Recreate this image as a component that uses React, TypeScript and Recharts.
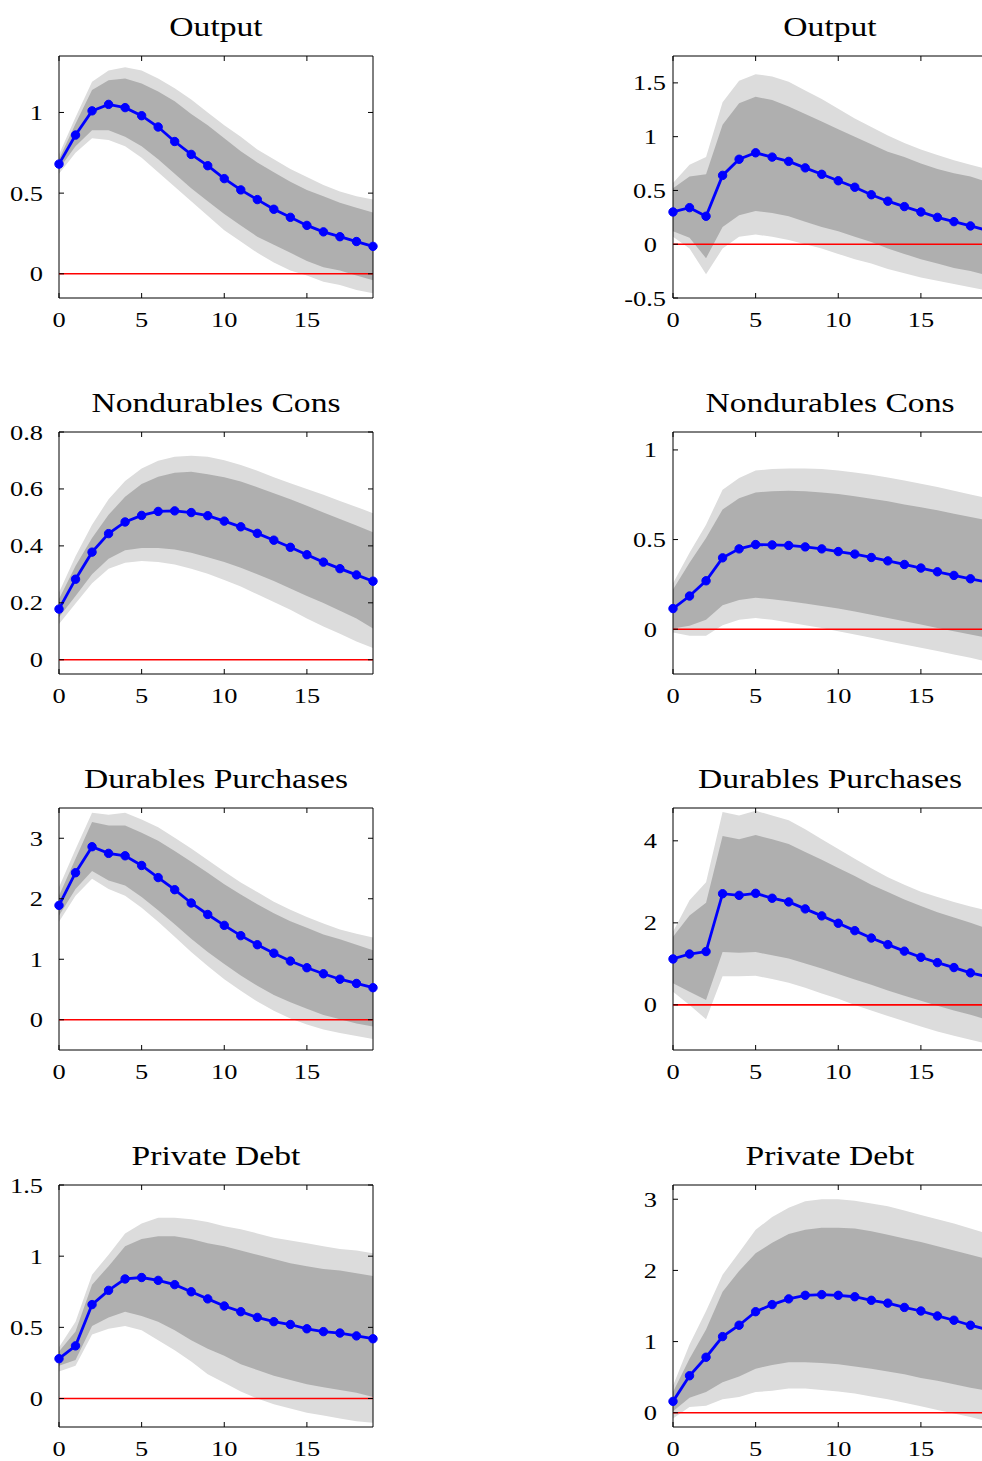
import React from 'react';
import { ComposedChart, Area, Line, XAxis, YAxis, ReferenceLine, ReferenceArea } from 'recharts';

// ---------- data ----------
const HORIZON = [0, 1, 2, 3, 4, 5, 6, 7, 8, 9, 10, 11, 12, 13, 14, 15, 16, 17, 18, 19];
const X_TICKS = [0, 5, 10, 15];

// Output (left)
const OUT_L_MED = [0.68, 0.86, 1.01, 1.05, 1.03, 0.98, 0.91, 0.82, 0.74, 0.67, 0.59, 0.52, 0.46, 0.40, 0.35, 0.30, 0.26, 0.23, 0.20, 0.17];
const OUT_L_D_HI = [0.71, 0.93, 1.14, 1.20, 1.21, 1.18, 1.13, 1.07, 0.99, 0.92, 0.84, 0.76, 0.69, 0.63, 0.57, 0.52, 0.48, 0.44, 0.41, 0.38];
const OUT_L_D_LO = [0.65, 0.79, 0.89, 0.89, 0.85, 0.79, 0.71, 0.62, 0.53, 0.45, 0.37, 0.30, 0.23, 0.18, 0.13, 0.08, 0.04, 0.02, -0.01, -0.04];
const OUT_L_L_HI = [0.74, 0.97, 1.19, 1.26, 1.28, 1.26, 1.21, 1.15, 1.08, 1.00, 0.92, 0.85, 0.77, 0.71, 0.65, 0.60, 0.55, 0.51, 0.48, 0.46];
const OUT_L_L_LO = [0.62, 0.75, 0.84, 0.83, 0.79, 0.72, 0.63, 0.54, 0.45, 0.36, 0.27, 0.20, 0.13, 0.07, 0.02, -0.01, -0.05, -0.07, -0.10, -0.12];
const OUT_L_YTICKS = [0, 0.5, 1];

// Output (right)
const OUT_R_MED = [0.30, 0.34, 0.26, 0.64, 0.79, 0.85, 0.81, 0.77, 0.71, 0.65, 0.59, 0.53, 0.46, 0.40, 0.35, 0.30, 0.25, 0.21, 0.17, 0.13];
const OUT_R_D_HI = [0.52, 0.63, 0.65, 1.11, 1.31, 1.37, 1.34, 1.28, 1.21, 1.14, 1.07, 1.00, 0.93, 0.86, 0.81, 0.75, 0.70, 0.66, 0.63, 0.58];
const OUT_R_D_LO = [0.12, 0.06, -0.13, 0.16, 0.27, 0.31, 0.29, 0.26, 0.21, 0.16, 0.12, 0.07, 0.02, -0.04, -0.09, -0.14, -0.18, -0.22, -0.25, -0.29];
const OUT_R_L_HI = [0.57, 0.74, 0.81, 1.32, 1.52, 1.58, 1.56, 1.51, 1.43, 1.35, 1.26, 1.17, 1.09, 1.01, 0.94, 0.88, 0.83, 0.78, 0.74, 0.70];
const OUT_R_L_LO = [0.07, -0.04, -0.28, -0.04, 0.07, 0.09, 0.07, 0.04, 0.00, -0.04, -0.09, -0.14, -0.18, -0.23, -0.27, -0.31, -0.34, -0.37, -0.40, -0.43];
const OUT_R_YTICKS = [-0.5, 0, 0.5, 1, 1.5];

// Nondurables Cons (left)
const NDC_L_MED = [0.178, 0.283, 0.378, 0.443, 0.484, 0.507, 0.521, 0.523, 0.517, 0.506, 0.487, 0.467, 0.444, 0.420, 0.395, 0.369, 0.343, 0.320, 0.298, 0.276];
const NDC_L_D_HI = [0.213, 0.329, 0.428, 0.509, 0.573, 0.617, 0.643, 0.657, 0.660, 0.652, 0.641, 0.626, 0.606, 0.585, 0.564, 0.541, 0.517, 0.494, 0.472, 0.448];
const NDC_L_D_LO = [0.149, 0.224, 0.300, 0.355, 0.385, 0.393, 0.393, 0.387, 0.376, 0.360, 0.343, 0.323, 0.300, 0.277, 0.250, 0.224, 0.199, 0.172, 0.145, 0.110];
const NDC_L_L_HI = [0.236, 0.364, 0.474, 0.564, 0.628, 0.672, 0.699, 0.713, 0.717, 0.713, 0.701, 0.684, 0.664, 0.641, 0.620, 0.600, 0.580, 0.558, 0.537, 0.515];
const NDC_L_L_LO = [0.126, 0.198, 0.269, 0.320, 0.341, 0.347, 0.343, 0.335, 0.320, 0.302, 0.280, 0.257, 0.230, 0.203, 0.176, 0.145, 0.117, 0.091, 0.064, 0.041];
const NDC_L_YTICKS = [0, 0.2, 0.4, 0.6, 0.8];

// Nondurables Cons (right)
const NDC_R_MED = [0.115, 0.185, 0.270, 0.398, 0.448, 0.472, 0.470, 0.467, 0.459, 0.448, 0.433, 0.419, 0.400, 0.381, 0.361, 0.341, 0.320, 0.300, 0.281, 0.263];
const NDC_R_D_HI = [0.222, 0.370, 0.509, 0.667, 0.731, 0.763, 0.769, 0.772, 0.769, 0.763, 0.754, 0.741, 0.728, 0.713, 0.696, 0.680, 0.663, 0.644, 0.626, 0.607];
const NDC_R_D_LO = [0.004, 0.019, 0.052, 0.133, 0.163, 0.176, 0.167, 0.156, 0.143, 0.130, 0.115, 0.098, 0.081, 0.063, 0.044, 0.026, 0.007, -0.011, -0.030, -0.048];
const NDC_R_L_HI = [0.256, 0.426, 0.583, 0.778, 0.843, 0.885, 0.893, 0.896, 0.896, 0.893, 0.885, 0.874, 0.861, 0.846, 0.830, 0.811, 0.793, 0.772, 0.752, 0.731];
const NDC_R_L_LO = [-0.019, -0.037, -0.037, 0.022, 0.052, 0.063, 0.052, 0.037, 0.022, 0.007, -0.011, -0.030, -0.048, -0.067, -0.085, -0.104, -0.122, -0.141, -0.159, -0.181];
const NDC_R_YTICKS = [0, 0.5, 1];

// Durables Purchases (left)
const DUR_L_MED = [1.89, 2.43, 2.86, 2.75, 2.71, 2.55, 2.35, 2.15, 1.93, 1.74, 1.56, 1.39, 1.24, 1.10, 0.97, 0.86, 0.76, 0.67, 0.60, 0.53];
const DUR_L_D_HI = [2.05, 2.66, 3.27, 3.21, 3.21, 3.09, 2.96, 2.79, 2.61, 2.43, 2.24, 2.07, 1.91, 1.76, 1.63, 1.52, 1.41, 1.33, 1.24, 1.15];
const DUR_L_D_LO = [1.72, 2.16, 2.46, 2.30, 2.22, 2.03, 1.81, 1.58, 1.34, 1.12, 0.92, 0.73, 0.56, 0.41, 0.29, 0.18, 0.08, 0.01, -0.06, -0.11];
const DUR_L_L_HI = [2.19, 2.82, 3.42, 3.39, 3.42, 3.31, 3.18, 3.01, 2.83, 2.64, 2.45, 2.27, 2.11, 1.95, 1.82, 1.70, 1.59, 1.49, 1.42, 1.36];
const DUR_L_L_LO = [1.62, 2.05, 2.33, 2.16, 2.05, 1.85, 1.62, 1.37, 1.12, 0.89, 0.67, 0.48, 0.30, 0.15, 0.02, -0.08, -0.16, -0.22, -0.27, -0.32];
const DUR_L_YTICKS = [0, 1, 2, 3];

// Durables Purchases (right)
const DUR_R_MED = [1.12, 1.24, 1.30, 2.71, 2.67, 2.72, 2.60, 2.51, 2.34, 2.17, 1.99, 1.81, 1.63, 1.47, 1.31, 1.16, 1.03, 0.91, 0.78, 0.69];
const DUR_R_D_HI = [1.66, 2.18, 2.49, 4.12, 4.04, 4.14, 4.04, 3.92, 3.73, 3.54, 3.34, 3.14, 2.93, 2.75, 2.57, 2.41, 2.26, 2.13, 2.00, 1.86];
const DUR_R_D_LO = [0.53, 0.32, 0.12, 1.29, 1.27, 1.29, 1.21, 1.13, 1.01, 0.89, 0.75, 0.62, 0.49, 0.35, 0.22, 0.10, -0.02, -0.14, -0.24, -0.36];
const DUR_R_L_HI = [1.78, 2.55, 2.99, 4.70, 4.62, 4.73, 4.62, 4.50, 4.28, 4.04, 3.80, 3.56, 3.33, 3.11, 2.93, 2.76, 2.63, 2.51, 2.40, 2.30];
const DUR_R_L_LO = [0.32, 0.00, -0.35, 0.70, 0.70, 0.71, 0.63, 0.54, 0.42, 0.28, 0.15, 0.00, -0.14, -0.27, -0.40, -0.53, -0.65, -0.75, -0.85, -0.95];
const DUR_R_YTICKS = [0, 2, 4];

// Private Debt (left)
const DEBT_L_MED = [0.28, 0.37, 0.66, 0.76, 0.84, 0.85, 0.83, 0.80, 0.75, 0.70, 0.65, 0.61, 0.57, 0.54, 0.52, 0.49, 0.47, 0.46, 0.44, 0.42];
const DEBT_L_D_HI = [0.33, 0.47, 0.80, 0.93, 1.07, 1.12, 1.14, 1.14, 1.12, 1.09, 1.07, 1.04, 1.01, 0.98, 0.95, 0.93, 0.91, 0.90, 0.88, 0.86];
const DEBT_L_D_LO = [0.23, 0.27, 0.51, 0.57, 0.61, 0.58, 0.54, 0.48, 0.41, 0.35, 0.30, 0.24, 0.20, 0.16, 0.13, 0.10, 0.08, 0.06, 0.04, 0.01];
const DEBT_L_L_HI = [0.36, 0.54, 0.87, 1.01, 1.16, 1.23, 1.27, 1.27, 1.26, 1.24, 1.21, 1.19, 1.16, 1.13, 1.11, 1.09, 1.07, 1.05, 1.04, 1.02];
const DEBT_L_L_LO = [0.19, 0.23, 0.45, 0.49, 0.51, 0.48, 0.41, 0.34, 0.26, 0.17, 0.11, 0.05, 0.00, -0.04, -0.07, -0.10, -0.12, -0.14, -0.16, -0.17];
const DEBT_L_YTICKS = [0, 0.5, 1, 1.5];

// Private Debt (right)
const DEBT_R_MED = [0.16, 0.52, 0.78, 1.07, 1.23, 1.42, 1.52, 1.60, 1.65, 1.66, 1.65, 1.63, 1.58, 1.54, 1.48, 1.43, 1.36, 1.30, 1.23, 1.17];
const DEBT_R_D_HI = [0.29, 0.76, 1.17, 1.70, 1.99, 2.24, 2.39, 2.51, 2.57, 2.60, 2.60, 2.59, 2.55, 2.50, 2.45, 2.40, 2.34, 2.28, 2.22, 2.16];
const DEBT_R_D_LO = [0.02, 0.21, 0.29, 0.43, 0.51, 0.62, 0.67, 0.71, 0.71, 0.70, 0.68, 0.65, 0.62, 0.58, 0.54, 0.49, 0.45, 0.40, 0.35, 0.31];
const DEBT_R_L_HI = [0.38, 0.96, 1.43, 1.94, 2.25, 2.57, 2.75, 2.88, 2.97, 3.00, 3.00, 2.98, 2.94, 2.90, 2.84, 2.78, 2.72, 2.66, 2.59, 2.52];
const DEBT_R_L_LO = [-0.08, 0.08, 0.10, 0.19, 0.22, 0.29, 0.31, 0.34, 0.34, 0.32, 0.30, 0.27, 0.23, 0.19, 0.14, 0.09, 0.04, -0.01, -0.06, -0.12];
const DEBT_R_YTICKS = [0, 1, 2, 3];

const TITLES = ['Output', 'Nondurables Cons', 'Durables Purchases', 'Private Debt'];

// ---------- layout / style ----------
const PLOT_W = 314;
const PLOT_H = 242;
const Y_AXIS_W = 59;
const X_AXIS_H = 40;
const M_TOP = 15;
const M_RIGHT = 10;
const CHART_W = Y_AXIS_W + PLOT_W + M_RIGHT;
const CHART_H = M_TOP + PLOT_H + X_AXIS_H;
const ROW_TOPS = [56, 432, 808, 1185];
const COL_LEFTS = [0, 614];
const FONT = '"Liberation Serif", "Times New Roman", serif';
const TICK_FS = 22;
const TITLE_FS = 28;
const STRETCH = 1.2;
const LIGHT = '#dcdcdc';
const DARK = '#afafaf';
const BLUE = '#0000ff';
const RED = '#ff0000';

type Panel = {
  title: string;
  med: number[]; dHi: number[]; dLo: number[]; lHi: number[]; lLo: number[];
  domain: [number, number];
  yTicks: number[];
  row: number; col: number;
};

const PANELS: Panel[] = [
  { title: TITLES[0], med: OUT_L_MED, dHi: OUT_L_D_HI, dLo: OUT_L_D_LO, lHi: OUT_L_L_HI, lLo: OUT_L_L_LO, domain: [-0.15, 1.35], yTicks: OUT_L_YTICKS, row: 0, col: 0 },
  { title: TITLES[0], med: OUT_R_MED, dHi: OUT_R_D_HI, dLo: OUT_R_D_LO, lHi: OUT_R_L_HI, lLo: OUT_R_L_LO, domain: [-0.5, 1.75], yTicks: OUT_R_YTICKS, row: 0, col: 1 },
  { title: TITLES[1], med: NDC_L_MED, dHi: NDC_L_D_HI, dLo: NDC_L_D_LO, lHi: NDC_L_L_HI, lLo: NDC_L_L_LO, domain: [-0.05, 0.8], yTicks: NDC_L_YTICKS, row: 1, col: 0 },
  { title: TITLES[1], med: NDC_R_MED, dHi: NDC_R_D_HI, dLo: NDC_R_D_LO, lHi: NDC_R_L_HI, lLo: NDC_R_L_LO, domain: [-0.25, 1.1], yTicks: NDC_R_YTICKS, row: 1, col: 1 },
  { title: TITLES[2], med: DUR_L_MED, dHi: DUR_L_D_HI, dLo: DUR_L_D_LO, lHi: DUR_L_L_HI, lLo: DUR_L_L_LO, domain: [-0.5, 3.5], yTicks: DUR_L_YTICKS, row: 2, col: 0 },
  { title: TITLES[2], med: DUR_R_MED, dHi: DUR_R_D_HI, dLo: DUR_R_D_LO, lHi: DUR_R_L_HI, lLo: DUR_R_L_LO, domain: [-1.1, 4.8], yTicks: DUR_R_YTICKS, row: 2, col: 1 },
  { title: TITLES[3], med: DEBT_L_MED, dHi: DEBT_L_D_HI, dLo: DEBT_L_D_LO, lHi: DEBT_L_L_HI, lLo: DEBT_L_L_LO, domain: [-0.2, 1.5], yTicks: DEBT_L_YTICKS, row: 3, col: 0 },
  { title: TITLES[3], med: DEBT_R_MED, dHi: DEBT_R_D_HI, dLo: DEBT_R_D_LO, lHi: DEBT_R_L_HI, lLo: DEBT_R_L_LO, domain: [-0.2, 3.2], yTicks: DEBT_R_YTICKS, row: 3, col: 1 },
];

const XTick = (props: any) => {
  const { x, y, payload } = props;
  return (
    <g>
      <line x1={x} x2={x} y1={y} y2={y - 5} stroke="#000" strokeWidth={1} />
      <line x1={x} x2={x} y1={y - PLOT_H} y2={y - PLOT_H + 5} stroke="#000" strokeWidth={1} />
      <text
        transform={`translate(${x},${y + 29}) scale(${STRETCH},1)`}
        textAnchor="middle"
        fontFamily={FONT}
        fontSize={TICK_FS}
        fill="#000"
      >
        {String(payload.value)}
      </text>
    </g>
  );
};

const makeYTick = (shiftDecimals: boolean) => (props: any) => {
  const { x, y, payload } = props;
  const label = String(payload.value);
  const off = shiftDecimals && label.includes('.') ? 7 : 16;
  return (
    <g>
      <line x1={x} x2={x + 5} y1={y} y2={y} stroke="#000" strokeWidth={1} />
      <line x1={x + PLOT_W - 5} x2={x + PLOT_W} y1={y} y2={y} stroke="#000" strokeWidth={1} />
      <text
        transform={`translate(${x - off},${y + 7.5}) scale(${STRETCH},1)`}
        textAnchor="end"
        fontFamily={FONT}
        fontSize={TICK_FS}
        fill="#000"
      >
        {label}
      </text>
    </g>
  );
};

const PanelChart = ({ p }: { p: Panel }) => {
  const data = HORIZON.map((t, i) => ({
    t,
    light: [p.lLo[i], p.lHi[i]],
    dark: [p.dLo[i], p.dHi[i]],
    med: p.med[i],
  }));
  return (
    <ComposedChart
      width={CHART_W}
      height={CHART_H}
      data={data}
      margin={{ top: M_TOP, right: M_RIGHT, bottom: 0, left: 0 }}
    >
      <XAxis
        type="number"
        dataKey="t"
        domain={[0, 19]}
        ticks={X_TICKS}
        interval={0}
        height={X_AXIS_H}
        tickSize={0}
        tickMargin={0}
        axisLine={false}
        tickLine={false}
        tick={XTick}
      />
      <YAxis
        type="number"
        domain={p.domain}
        ticks={p.yTicks}
        interval={0}
        width={Y_AXIS_W}
        tickSize={0}
        tickMargin={0}
        axisLine={false}
        tickLine={false}
        tick={makeYTick(p.col === 1)}
      />
      <Area
        type="linear"
        dataKey="light"
        stroke="none"
        fill={LIGHT}
        fillOpacity={1}
        isAnimationActive={false}
        activeDot={false}
      />
      <Area
        type="linear"
        dataKey="dark"
        stroke="none"
        fill={DARK}
        fillOpacity={1}
        isAnimationActive={false}
        activeDot={false}
      />
      <ReferenceLine y={0} stroke={RED} strokeWidth={1.6} />
      <Line
        type="linear"
        dataKey="med"
        stroke={BLUE}
        strokeWidth={2.8}
        dot={{ r: 4.2, fill: BLUE, stroke: BLUE, strokeWidth: 1 }}
        activeDot={false}
        isAnimationActive={false}
      />
      <ReferenceArea
        x1={0}
        x2={19}
        y1={p.domain[0]}
        y2={p.domain[1]}
        fill="none"
        fillOpacity={0}
        stroke="#000"
        strokeWidth={1}
      />
    </ComposedChart>
  );
};

export default function App() {
  return (
    <div
      style={{
        position: 'absolute',
        left: 0,
        top: 0,
        width: 982,
        height: 1461,
        overflow: 'hidden',
        background: '#fff',
      }}
    >
      {PANELS.map((p, i) => (
        <div
          key={i}
          style={{
            position: 'absolute',
            left: COL_LEFTS[p.col],
            top: ROW_TOPS[p.row] - M_TOP,
            width: CHART_W,
            height: CHART_H,
          }}
        >
          <PanelChart p={p} />
        </div>
      ))}
      <svg
        width={982}
        height={1461}
        style={{ position: 'absolute', left: 0, top: 0, pointerEvents: 'none' }}
      >
        {PANELS.map((p, i) => (
          <text
            key={i}
            transform={`translate(${COL_LEFTS[p.col] + Y_AXIS_W + PLOT_W / 2},${ROW_TOPS[p.row] - 20}) scale(${STRETCH},1)`}
            textAnchor="middle"
            fontFamily={FONT}
            fontSize={TITLE_FS}
            fill="#000"
          >
            {p.title}
          </text>
        ))}
      </svg>
    </div>
  );
}
